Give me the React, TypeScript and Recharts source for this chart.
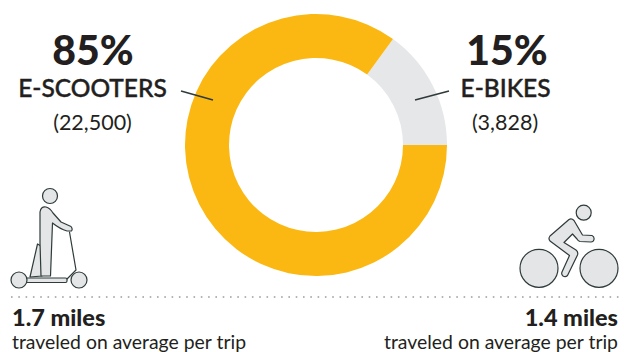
import { PieChart, Pie, Cell } from "recharts"

const categories = ["E-BIKES", "E-SCOOTERS"]
const shares = [15, 85]
const sliceColors = ["#E6E7E8", "#FBB813"]

const ink = "#231F20"
const iconStroke = "#2F3A3A"
const iconFill = "#E3E5E6"
const font = "Lato, sans-serif"

const center = { textAnchor: "middle" as const }
// thickens the medium-weight category names a little
const labelWeight = { fontWeight: 500, stroke: ink, strokeWidth: 0.45 }

function ScooterIcon() {
  return (
    <g fill={iconFill} stroke={iconStroke} strokeWidth={1.2} strokeLinejoin="round" strokeLinecap="round">
      <path d="M69.5 232 L76 270 L67 279" fill="none" />
      <rect x={26} y={278} width={41} height={4.5} rx={1.5} />
      <circle cx={50} cy={196} r={7.5} />
      <path d="M42 276 L41 246 L37.5 244 L30 277 Z" />
      <path d="M40 243 L40 212 Q41 206 46 207 Q50 208 53 213 L61 222 L71 226.5 Q73 229 71.5 231 L67 231 Q60 229 52.5 223 L50.5 276 L41 276 Z" />
      <circle cx={19} cy={280} r={8} />
      <circle cx={79} cy={280} r={8} />
    </g>
  )
}

function BikeIcon() {
  return (
    <g fill={iconFill} stroke={iconStroke} strokeWidth={1.2} strokeLinejoin="round" strokeLinecap="round">
      <circle cx={583.7} cy={212.7} r={7.5} />
      <circle cx={539} cy={268.3} r={19} />
      <circle cx={599} cy={268.3} r={19} />
      <path d="M569 219.5 Q571.5 218 574 220.5 L582.5 235 L592 235.5 Q594.5 236.5 594 239.5 Q593.5 242 591 242 L580 241.5 Q578 241 577 239 L572.5 234 L564 242.5 L576 250 Q578.5 252 577.5 255 L567.5 275.5 Q565.5 277.5 563 276 Q561 274.5 562 272 L569.5 255.5 L550 241 Q548 238.5 550 236 Z" />
    </g>
  )
}

export default function App() {
  const data = categories.map((name, i) => ({ name, value: shares[i] }))

  return (
    <div style={{ position: "absolute", left: 0, top: 0, width: 624, height: 352, overflow: "hidden", background: "#fff" }}>
      <PieChart width={624} height={352} margin={{ top: 0, right: 0, bottom: 0, left: 0 }}>
        <Pie
          data={data}
          dataKey="value"
          cx={316}
          cy={145}
          innerRadius={87}
          outerRadius={131}
          startAngle={0}
          endAngle={360}
          stroke="none"
          isAnimationActive={false}
        >
          {data.map((_, i) => (
            <Cell key={i} fill={sliceColors[i]} />
          ))}
        </Pie>
      </PieChart>

      <svg width={624} height={352} style={{ position: "absolute", left: 0, top: 0 }} fontFamily={font} fill={ink}>
        <text x={93} y={65} fontSize={41} fontWeight={900} {...center}>85%</text>
        <text x={92.5} y={97} fontSize={24.5} {...labelWeight} {...center}>E-SCOOTERS</text>
        <text x={92.5} y={130} fontSize={21.5} fontWeight={400} {...center}>(22,500)</text>

        <text x={507} y={65} fontSize={41} fontWeight={900} {...center}>15%</text>
        <text x={505.5} y={97} fontSize={24.5} {...labelWeight} {...center}>E-BIKES</text>
        <text x={505} y={130} fontSize={21.5} fontWeight={400} {...center}>(3,828)</text>

        <line x1={181} y1={91} x2={213} y2={100} stroke={iconStroke} strokeWidth={1.6} />
        <line x1={415} y1={100} x2={449} y2={91} stroke={iconStroke} strokeWidth={1.6} />

        <ScooterIcon />
        <BikeIcon />

        <line x1={11} y1={297} x2={624} y2={297} stroke="#9A9C9E" strokeWidth={1.6} strokeDasharray="1.6 5.7" />

        <text x={12} y={326} fontSize={23.5} fontWeight={900}>1.7 miles</text>
        <text x={12} y={349} fontSize={19.4} fontWeight={400}>traveled on average per trip</text>
        <text x={618} y={326} fontSize={23.5} fontWeight={900} textAnchor="end">1.4 miles</text>
        <text x={618} y={349} fontSize={19.4} fontWeight={400} textAnchor="end">traveled on average per trip</text>
      </svg>
    </div>
  )
}
